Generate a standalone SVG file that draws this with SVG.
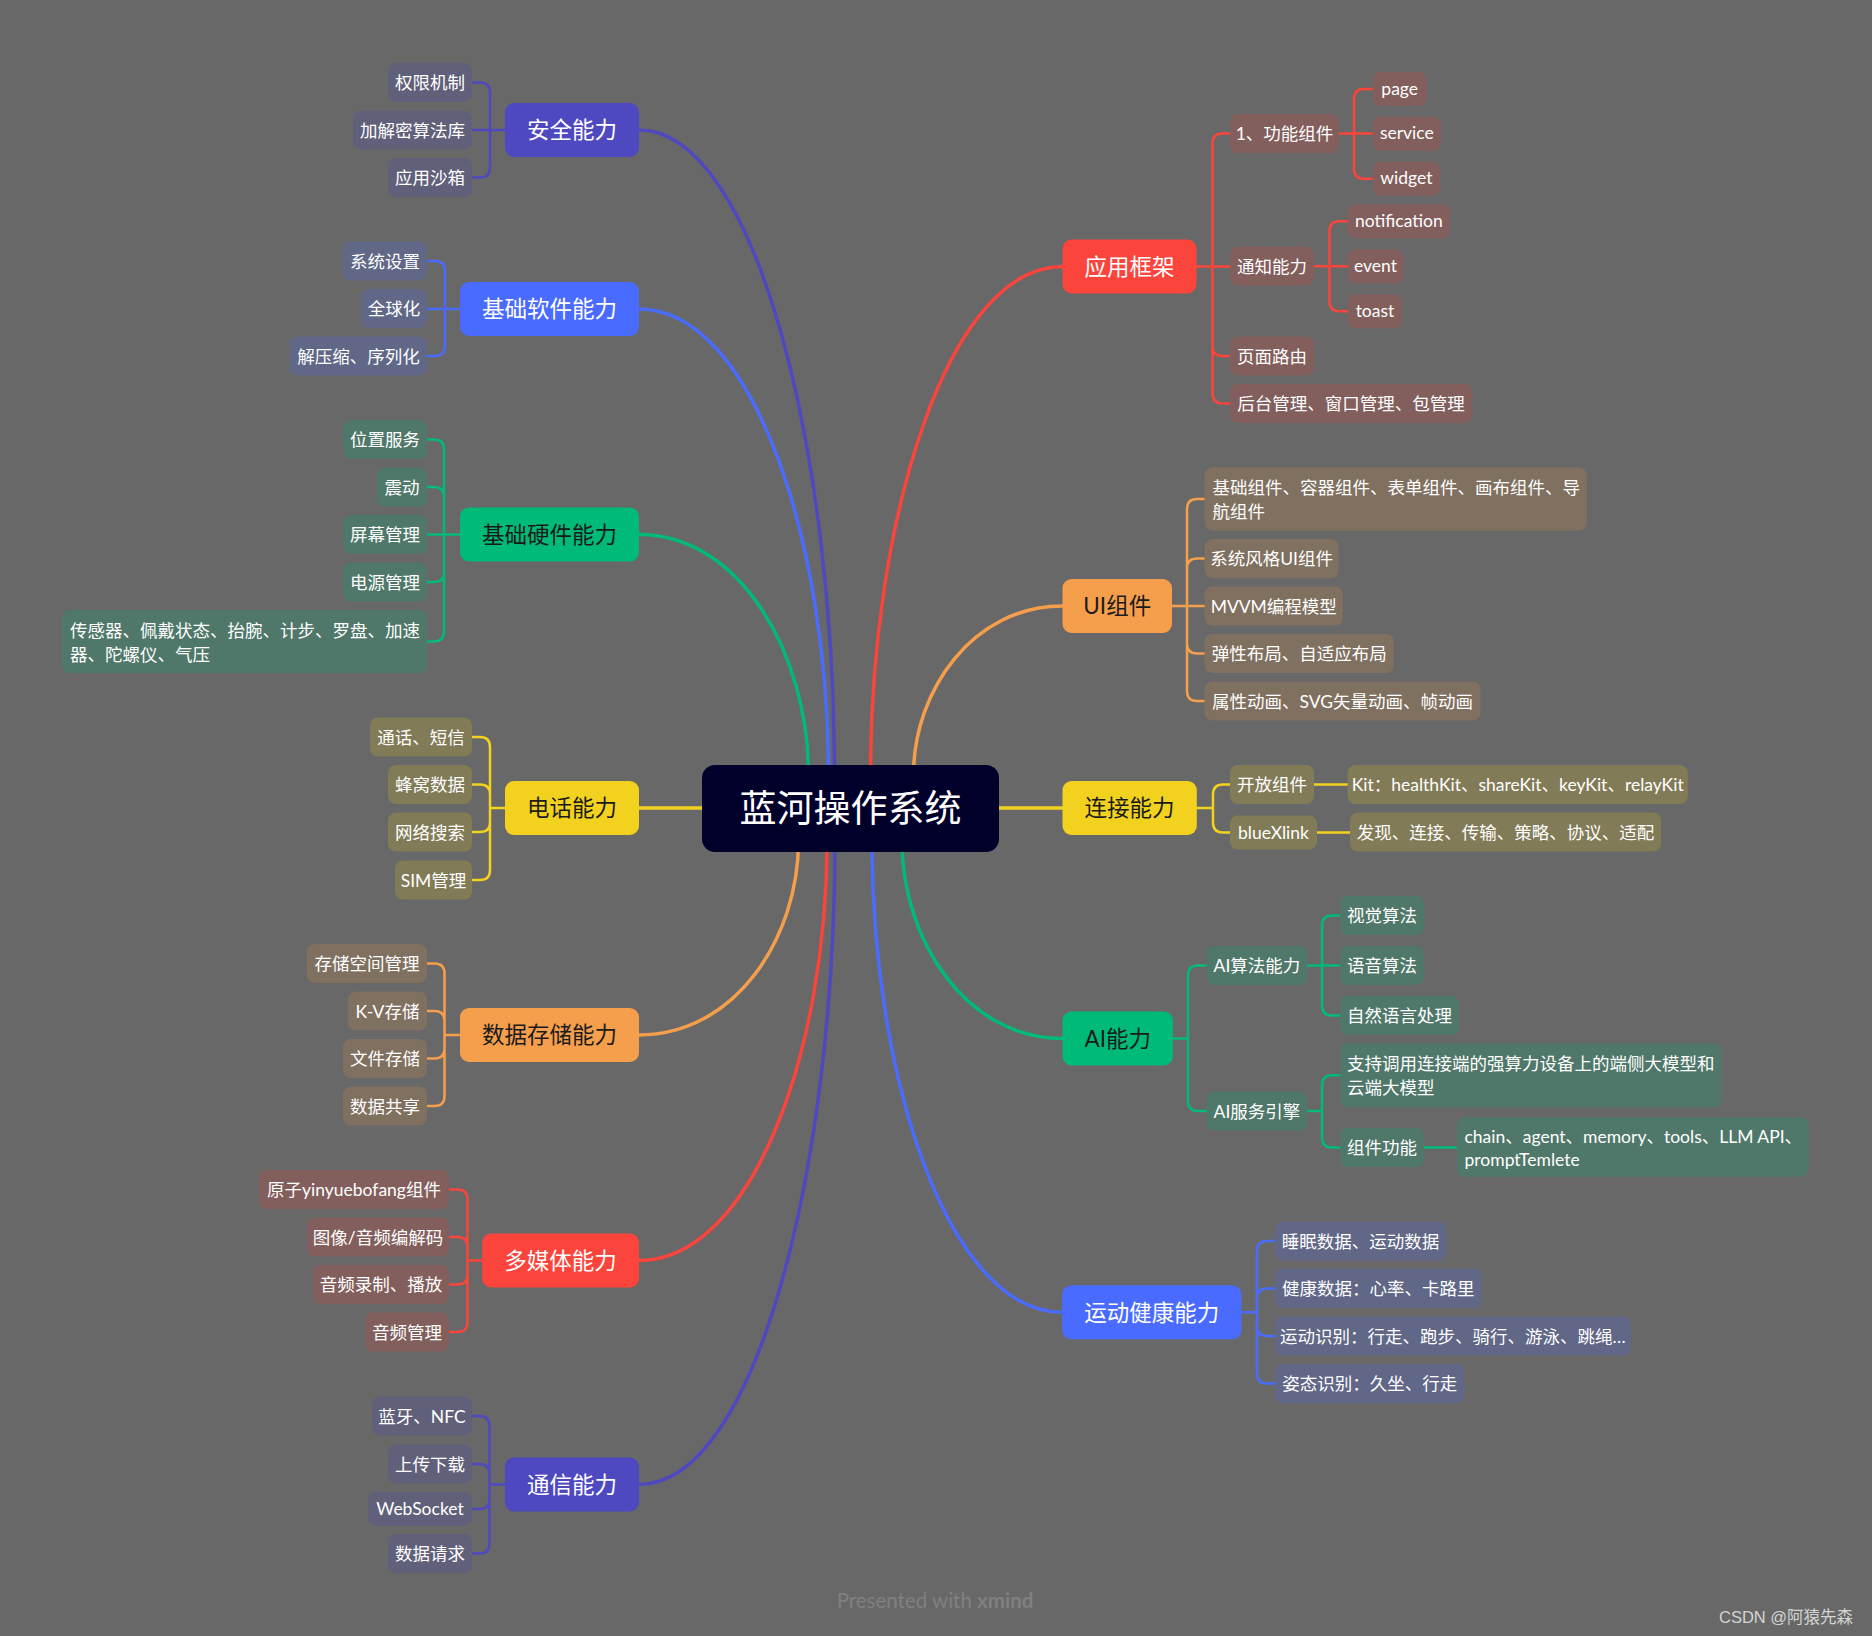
<svg xmlns="http://www.w3.org/2000/svg" width="1872" height="1636" viewBox="0 0 1872 1636">
<style>
text{font-family:Lato,"Noto Sans CJK SC",sans-serif}
.s{font-size:17.5px;fill:#fff;text-anchor:middle}
.sl{font-size:17.5px;fill:#fff}
.m{font-size:22.5px;text-anchor:middle}
.w{fill:#fff}.d{fill:#1b1b1b}
.pu{fill:#4F49C1}.bl{fill:#4A6BFF}.gr{fill:#00BA78}.ye{fill:#F2D21E}.or{fill:#F59E4B}.re{fill:#FB443B}
.cpu{fill:#61607A}.cbl{fill:#606787}.cgr{fill:#50786A}.cye{fill:#827B57}.cor{fill:#807060}.cre{fill:#825E5C}
#connectors path{fill:none;stroke-linecap:round;stroke-linejoin:round}
.k{stroke-width:3.5}.t{stroke-width:2.5}
.spu{stroke:#4F49C1}.sbl{stroke:#4A6BFF}.sgr{stroke:#00BA78}.sye{stroke:#F2D21E}.sor{stroke:#F59E4B}.sre{stroke:#FB443B}
</style>
<rect width="1872" height="1636" fill="#686868"/>
<g id="connectors">
<path class="k spu" d="M639,130 C756,130 834.5,452.5 834.5,775 L834.5,800"/>
<path class="k sbl" d="M639,309 C753,309 828.5,542 828.5,775 L828.5,800"/>
<path class="k sgr" d="M639,534.5 C741,534.5 808.5,655 808.5,775 L808.5,800"/>
<path class="k sye" d="M639,808 L720,808"/>
<path class="k sor" d="M639,1035 C735,1035 798.5,938 798.5,841 L798.5,815"/>
<path class="k sre" d="M639,1260.5 C752,1260.5 827,1051 827,841 L827,815"/>
<path class="k spu" d="M639,1484.5 C757,1484.5 835,1163 835,841 L835,815"/>
<path class="k sre" d="M1062.5,266.5 C947,266.5 870.5,521 870.5,775 L870.5,800"/>
<path class="k sor" d="M1062.5,606 C973,606 913.5,690.5 913.5,775 L913.5,800"/>
<path class="k sye" d="M980,808 L1062.5,808"/>
<path class="k sgr" d="M1062.5,1038.5 C966,1038.5 902,940 902,841 L902,815"/>
<path class="k sbl" d="M1062.5,1312.3 C948,1312.3 872,1077 872,841 L872,815"/>
<path class="t spu" d="M505,130 H490 V92.5 Q490,82.5 480,82.5 H472 M505,130 H472 M505,130 H490 V167.5 Q490,177.5 480,177.5 H472"/>
<path class="t sbl" d="M460,309 H445 V271 Q445,261 435,261 H427 M460,309 H427 M460,309 H445 V346 Q445,356 435,356 H427"/>
<path class="t sgr" d="M460,534.5 H444 V449.5 Q444,439.5 434,439.5 H427 M460,534.5 H444 V497 Q444,487 434,487 H427 M460,534.5 H427 M460,534.5 H444 V572 Q444,582 434,582 H427 M460,534.5 H444 V631.5 Q444,641.5 434,641.5 H427"/>
<path class="t sye" d="M505,808 H490 V747 Q490,737 480,737 H472 M505,808 H490 V794.5 Q490,784.5 480,784.5 H472 M505,808 H490 V822 Q490,832 480,832 H472 M505,808 H490 V870 Q490,880 480,880 H472"/>
<path class="t sor" d="M460,1035 H444.5 V973.5 Q444.5,963.5 434.5,963.5 H427 M460,1035 H444.5 V1021 Q444.5,1011 434.5,1011 H427 M460,1035 H444.5 V1048.5 Q444.5,1058.5 434.5,1058.5 H427 M460,1035 H444.5 V1096 Q444.5,1106 434.5,1106 H427"/>
<path class="t sre" d="M482,1260.5 H467.5 V1199.5 Q467.5,1189.5 457.5,1189.5 H449 M482,1260.5 H467.5 V1247 Q467.5,1237 457.5,1237 H449 M482,1260.5 H467.5 V1274.5 Q467.5,1284.5 457.5,1284.5 H449 M482,1260.5 H467.5 V1322 Q467.5,1332 457.5,1332 H449"/>
<path class="t spu" d="M505,1484.5 H489.5 V1426 Q489.5,1416 479.5,1416 H472 M505,1484.5 H489.5 V1474 Q489.5,1464 479.5,1464 H472 M505,1484.5 H489.5 V1499 Q489.5,1509 479.5,1509 H472 M505,1484.5 H489.5 V1543.5 Q489.5,1553.5 479.5,1553.5 H472"/>
<path class="t sre" d="M1196.5,266.5 H1212.5 V143.5 Q1212.5,133.5 1222.5,133.5 H1230 M1196.5,266.5 H1230 M1196.5,266.5 H1212.5 V346 Q1212.5,356 1222.5,356 H1230 M1196.5,266.5 H1212.5 V393.5 Q1212.5,403.5 1222.5,403.5 H1230"/>
<path class="t sre" d="M1339,133.5 H1354 V99 Q1354,89 1364,89 H1373 M1339,133.5 H1373 M1339,133.5 H1354 V168.7 Q1354,178.7 1364,178.7 H1373"/>
<path class="t sre" d="M1314,266.3 H1329.5 V231.3 Q1329.5,221.3 1339.5,221.3 H1348 M1314,266.3 H1348 M1314,266.3 H1329.5 V301.3 Q1329.5,311.3 1339.5,311.3 H1348"/>
<path class="t sor" d="M1172,606 H1187 V509 Q1187,499 1197,499 H1205 M1172,606 H1187 V568.5 Q1187,558.5 1197,558.5 H1205 M1172,606 H1205 M1172,606 H1187 V643.5 Q1187,653.5 1197,653.5 H1205 M1172,606 H1187 V691 Q1187,701 1197,701 H1205"/>
<path class="t sye" d="M1196.8,808 H1213 V794.5 Q1213,784.5 1223,784.5 H1230 M1196.8,808 H1213 V822.5 Q1213,832.5 1223,832.5 H1230 M1314,784.5 H1347.5 M1317,832.5 H1350"/>
<path class="t sgr" d="M1173,1038.5 H1188 V975.5 Q1188,965.5 1198,965.5 H1207 M1173,1038.5 H1188 V1101 Q1188,1111 1198,1111 H1207"/>
<path class="t sgr" d="M1307,965.5 H1322 V925.5 Q1322,915.5 1332,915.5 H1340 M1307,965.5 H1340 M1307,965.5 H1322 V1005.5 Q1322,1015.5 1332,1015.5 H1340"/>
<path class="t sgr" d="M1307,1111 H1322 V1085.3 Q1322,1075.3 1332,1075.3 H1340 M1307,1111 H1322 V1137.5 Q1322,1147.5 1332,1147.5 H1340 M1424,1147.5 H1457"/>
<path class="t sbl" d="M1241.4,1312.3 H1257 V1251 Q1257,1241 1267,1241 H1275 M1241.4,1312.3 H1257 V1298.5 Q1257,1288.5 1267,1288.5 H1275 M1241.4,1312.3 H1257 V1326 Q1257,1336 1267,1336 H1275 M1241.4,1312.3 H1257 V1373.5 Q1257,1383.5 1267,1383.5 H1275"/>
</g>
<g id="n-root"><rect x="702" y="765" width="297" height="87" rx="13" fill="#00002B"/><text x="850.5" y="822" font-size="37" fill="#fff" text-anchor="middle">蓝河操作系统</text></g>
<g id="n-anquan"><rect class="pu" x="505" y="103" width="134" height="54" rx="9"/><text class="m w" x="572" y="138.3">安全能力</text></g>
<g id="n-quanxian"><rect class="cpu" x="388" y="63" width="84" height="39" rx="8"/><text class="s" x="430" y="89">权限机制</text></g>
<g id="n-jiami"><rect class="cpu" x="353" y="110.5" width="119" height="39" rx="8"/><text class="s" x="412.5" y="136.5">加解密算法库</text></g>
<g id="n-shaxiang"><rect class="cpu" x="388" y="158" width="84" height="39" rx="8"/><text class="s" x="430" y="184">应用沙箱</text></g>
<g id="n-ruanjian"><rect class="bl" x="460" y="282" width="179" height="54" rx="9"/><text class="m w" x="549.5" y="317.3">基础软件能力</text></g>
<g id="n-xitong"><rect class="cbl" x="343" y="241.5" width="84" height="39" rx="8"/><text class="s" x="385" y="267.5">系统设置</text></g>
<g id="n-quanqiu"><rect class="cbl" x="361" y="289" width="66" height="39" rx="8"/><text class="s" x="394" y="315">全球化</text></g>
<g id="n-jieya"><rect class="cbl" x="290" y="336.5" width="137" height="39" rx="8"/><text class="s" x="358.5" y="362.5">解压缩、序列化</text></g>
<g id="n-yingjian"><rect class="gr" x="460" y="507.5" width="179" height="54" rx="9"/><text class="m d" x="549.5" y="542.8">基础硬件能力</text></g>
<g id="n-weizhi"><rect class="cgr" x="343" y="420" width="84" height="39" rx="8"/><text class="s" x="385" y="446">位置服务</text></g>
<g id="n-zhendong"><rect class="cgr" x="377" y="467.5" width="50" height="39" rx="8"/><text class="s" x="402" y="493.5">震动</text></g>
<g id="n-pingmu"><rect class="cgr" x="343" y="515" width="84" height="39" rx="8"/><text class="s" x="385" y="541">屏幕管理</text></g>
<g id="n-dianyuan"><rect class="cgr" x="343" y="562.5" width="84" height="39" rx="8"/><text class="s" x="385" y="588.5">电源管理</text></g>
<g id="n-chuanganqi"><rect class="cgr" x="62" y="610" width="365" height="63" rx="8"/><text class="sl" x="70" y="636.5">传感器、佩戴状态、抬腕、计步、罗盘、加速</text><text class="sl" x="70" y="660.5">器、陀螺仪、气压</text></g>
<g id="n-dianhua"><rect class="ye" x="505" y="781" width="134" height="54" rx="9"/><text class="m d" x="572" y="816.3">电话能力</text></g>
<g id="n-tonghua"><rect class="cye" x="370" y="717.5" width="102" height="39" rx="8"/><text class="s" x="421" y="743.5">通话、短信</text></g>
<g id="n-fengwo"><rect class="cye" x="388" y="765" width="84" height="39" rx="8"/><text class="s" x="430" y="791">蜂窝数据</text></g>
<g id="n-wangluo"><rect class="cye" x="388" y="812.5" width="84" height="39" rx="8"/><text class="s" x="430" y="838.5">网络搜索</text></g>
<g id="n-sim"><rect class="cye" x="395" y="860.5" width="77" height="39" rx="8"/><text class="s" x="433.5" y="886.5">SIM管理</text></g>
<g id="n-cunchu"><rect class="or" x="460" y="1008" width="179" height="54" rx="9"/><text class="m d" x="549.5" y="1043.3">数据存储能力</text></g>
<g id="n-kongjian"><rect class="cor" x="307" y="944" width="120" height="39" rx="8"/><text class="s" x="367" y="970">存储空间管理</text></g>
<g id="n-kv"><rect class="cor" x="348" y="991.5" width="79" height="39" rx="8"/><text class="s" x="387.5" y="1017.5">K-V存储</text></g>
<g id="n-wenjian"><rect class="cor" x="343" y="1039" width="84" height="39" rx="8"/><text class="s" x="385" y="1065">文件存储</text></g>
<g id="n-gongxiang"><rect class="cor" x="343" y="1086.5" width="84" height="39" rx="8"/><text class="s" x="385" y="1112.5">数据共享</text></g>
<g id="n-duomeiti"><rect class="re" x="482" y="1233.5" width="157" height="54" rx="9"/><text class="m w" x="560.5" y="1268.8">多媒体能力</text></g>
<g id="n-yuanzi"><rect class="cre" x="259" y="1170" width="190" height="39" rx="8"/><text class="s" x="354" y="1196">原子yinyuebofang组件</text></g>
<g id="n-tuxiang"><rect class="cre" x="307" y="1217.5" width="142" height="39" rx="8"/><text class="s" x="378" y="1243.5">图像/音频编解码</text></g>
<g id="n-luzhi"><rect class="cre" x="313" y="1265" width="136" height="39" rx="8"/><text class="s" x="381" y="1291">音频录制、播放</text></g>
<g id="n-yinpin"><rect class="cre" x="365" y="1312.5" width="84" height="39" rx="8"/><text class="s" x="407" y="1338.5">音频管理</text></g>
<g id="n-tongxin"><rect class="pu" x="505" y="1457.5" width="134" height="54" rx="9"/><text class="m w" x="572" y="1492.8">通信能力</text></g>
<g id="n-lanya"><rect class="cpu" x="372" y="1396.5" width="100" height="39" rx="8"/><text class="s" x="422" y="1422.5">蓝牙、NFC</text></g>
<g id="n-shangchuan"><rect class="cpu" x="388" y="1444.5" width="84" height="39" rx="8"/><text class="s" x="430" y="1470.5">上传下载</text></g>
<g id="n-websocket"><rect class="cpu" x="368" y="1492" width="104" height="34" rx="8"/><text class="s" x="420" y="1515">WebSocket</text></g>
<g id="n-qingqiu"><rect class="cpu" x="388" y="1534" width="84" height="39" rx="8"/><text class="s" x="430" y="1560">数据请求</text></g>
<g id="n-kuangjia"><rect class="re" x="1062.5" y="239.5" width="134" height="54" rx="9"/><text class="m w" x="1129.5" y="274.8">应用框架</text></g>
<g id="n-gongneng"><rect class="cre" x="1230" y="114" width="109" height="39" rx="8"/><text class="s" x="1284.5" y="140">1、功能组件</text></g>
<g id="n-page"><rect class="cre" x="1372.7" y="72" width="54" height="34" rx="8"/><text class="s" x="1399.7" y="94.5">page</text></g>
<g id="n-service"><rect class="cre" x="1372.7" y="116.7" width="68.3" height="34" rx="8"/><text class="s" x="1406.85" y="139.2">service</text></g>
<g id="n-widget"><rect class="cre" x="1372.7" y="161.7" width="67.3" height="34" rx="8"/><text class="s" x="1406.35" y="184.2">widget</text></g>
<g id="n-tongzhi"><rect class="cre" x="1230" y="246.5" width="84" height="39" rx="8"/><text class="s" x="1272" y="272.5">通知能力</text></g>
<g id="n-notification"><rect class="cre" x="1347.7" y="204.3" width="102.3" height="34" rx="8"/><text class="s" x="1398.85" y="226.8">notification</text></g>
<g id="n-event"><rect class="cre" x="1347.7" y="249.3" width="55.6" height="34" rx="8"/><text class="s" x="1375.5" y="271.8">event</text></g>
<g id="n-toast"><rect class="cre" x="1347.7" y="294.3" width="54.6" height="34" rx="8"/><text class="s" x="1375" y="316.8">toast</text></g>
<g id="n-luyou"><rect class="cre" x="1230" y="336.5" width="84" height="39" rx="8"/><text class="s" x="1272" y="362.5">页面路由</text></g>
<g id="n-houtai"><rect class="cre" x="1230" y="384" width="242" height="39" rx="8"/><text class="s" x="1351" y="410">后台管理、窗口管理、包管理</text></g>
<g id="n-ui"><rect class="or" x="1062.5" y="579" width="109.5" height="54" rx="9"/><text class="m d" x="1117.25" y="614.3">UI组件</text></g>
<g id="n-jichuzujian"><rect class="cor" x="1204.6" y="467.3" width="382.2" height="63.4" rx="8"/><text class="sl" x="1212.5" y="494">基础组件、容器组件、表单组件、画布组件、导</text><text class="sl" x="1212.5" y="517.5">航组件</text></g>
<g id="n-fengge"><rect class="cor" x="1204.6" y="539" width="134" height="39" rx="8"/><text class="s" x="1271.6" y="565">系统风格UI组件</text></g>
<g id="n-mvvm"><rect class="cor" x="1204.6" y="586.5" width="138.3" height="39" rx="8"/><text class="s" x="1273.75" y="612.5">MVVM编程模型</text></g>
<g id="n-tanxing"><rect class="cor" x="1204.6" y="634" width="189.3" height="39" rx="8"/><text class="s" x="1299.25" y="660">弹性布局、自适应布局</text></g>
<g id="n-donghua"><rect class="cor" x="1204.6" y="681.5" width="275.8" height="39" rx="8"/><text class="s" x="1342.5" y="707.5">属性动画、SVG矢量动画、帧动画</text></g>
<g id="n-lianjie"><rect class="ye" x="1062.5" y="781" width="134.3" height="54" rx="9"/><text class="m d" x="1129.6" y="816.3">连接能力</text></g>
<g id="n-kaifang"><rect class="cye" x="1230" y="765" width="84" height="39" rx="8"/><text class="s" x="1272" y="791">开放组件</text></g>
<g id="n-kit"><rect class="cye" x="1347.5" y="765" width="340.3" height="39" rx="8"/><text class="s" x="1517.65" y="791">Kit：healthKit、shareKit、keyKit、relayKit</text></g>
<g id="n-bluexlink"><rect class="cye" x="1230" y="815.5" width="87" height="34" rx="8"/><text class="s" x="1273.5" y="838.5">blueXlink</text></g>
<g id="n-faxian"><rect class="cye" x="1350" y="812.5" width="311" height="39" rx="8"/><text class="s" x="1505.5" y="838.5">发现、连接、传输、策略、协议、适配</text></g>
<g id="n-ai"><rect class="gr" x="1062.5" y="1011.5" width="110.4" height="54" rx="9"/><text class="m d" x="1117.7" y="1046.8">AI能力</text></g>
<g id="n-suanfa"><rect class="cgr" x="1206.7" y="946" width="100.5" height="39" rx="8"/><text class="s" x="1256.95" y="972">AI算法能力</text></g>
<g id="n-shijue"><rect class="cgr" x="1340" y="896" width="84" height="39" rx="8"/><text class="s" x="1382" y="922">视觉算法</text></g>
<g id="n-yuyin"><rect class="cgr" x="1340" y="946" width="84" height="39" rx="8"/><text class="s" x="1382" y="972">语音算法</text></g>
<g id="n-ziran"><rect class="cgr" x="1340" y="996" width="119" height="39" rx="8"/><text class="s" x="1399.5" y="1022">自然语言处理</text></g>
<g id="n-fuwu"><rect class="cgr" x="1206.7" y="1091.5" width="100.5" height="39" rx="8"/><text class="s" x="1256.95" y="1117.5">AI服务引擎</text></g>
<g id="n-zhichi"><rect class="cgr" x="1340" y="1043.3" width="381.6" height="64" rx="8"/><text class="sl" x="1347" y="1070">支持调用连接端的强算力设备上的端侧大模型和</text><text class="sl" x="1347" y="1094">云端大模型</text></g>
<g id="n-zujian"><rect class="cgr" x="1340" y="1128" width="84" height="39" rx="8"/><text class="s" x="1382" y="1154">组件功能</text></g>
<g id="n-chain"><rect class="cgr" x="1457" y="1117.3" width="351.7" height="59.4" rx="8"/><text class="sl" x="1464.5" y="1143">chain、agent、memory、tools、LLM API、</text><text class="sl" x="1464.5" y="1166">promptTemlete</text></g>
<g id="n-jiankang"><rect class="bl" x="1062.2" y="1285.3" width="179.2" height="54" rx="9"/><text class="m w" x="1151.8" y="1320.6">运动健康能力</text></g>
<g id="n-shuimian"><rect class="cbl" x="1275" y="1221.5" width="171" height="39" rx="8"/><text class="s" x="1360.5" y="1247.5">睡眠数据、运动数据</text></g>
<g id="n-xinlv"><rect class="cbl" x="1275" y="1269" width="206.7" height="39" rx="8"/><text class="s" x="1378.35" y="1295">健康数据：心率、卡路里</text></g>
<g id="n-shibie"><rect class="cbl" x="1275" y="1316.5" width="355.6" height="39" rx="8"/><text class="s" x="1452.8" y="1342.5">运动识别：行走、跑步、骑行、游泳、跳绳…</text></g>
<g id="n-zitai"><rect class="cbl" x="1275" y="1364" width="189.5" height="39" rx="8"/><text class="s" x="1369.75" y="1390">姿态识别：久坐、行走</text></g>
<text x="935" y="1608" font-size="20.5" fill="#808080" text-anchor="middle">Presented with <tspan font-weight="bold">xmind</tspan></text>
<text x="1719" y="1623" font-size="16.5" fill="#d4d4d4" style="font-family:'Liberation Sans','Noto Sans CJK SC',sans-serif">CSDN @阿猿先森</text>
</svg>
